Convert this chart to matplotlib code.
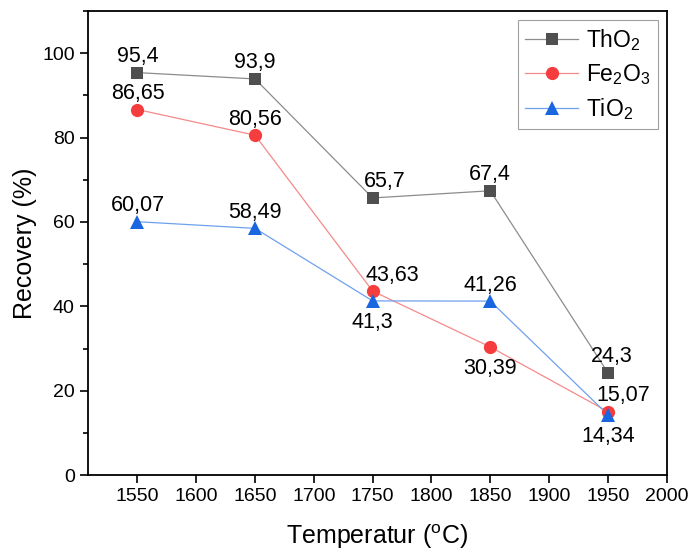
import matplotlib
matplotlib.use("Agg")
import matplotlib.pyplot as plt
from matplotlib.ticker import MultipleLocator

plt.rcParams['font.family'] = ['Liberation Sans', 'DejaVu Sans']
plt.rcParams['mathtext.fontset'] = 'custom'
plt.rcParams['mathtext.rm'] = 'Liberation Sans'
plt.rcParams['mathtext.it'] = 'Liberation Sans:italic'

temperature = [1550, 1650, 1750, 1850, 1950]
tho2 = [95.4, 93.9, 65.7, 67.4, 24.3]
fe2o3 = [86.65, 80.56, 43.63, 30.39, 15.07]
tio2 = [60.07, 58.49, 41.3, 41.26, 14.34]

# label placement per point: 'a' above, 'b' below, with a sideways nudge (pt)
tho2_pos = ['a', 'a', 'a', 'a', 'a']
tho2_dx = [0, 0, 9, 0, 3]
fe2o3_pos = ['a', 'a', 'a', 'b', 'a']
fe2o3_dx = [0, 0, 14, 0, 11]
tio2_pos = ['a', 'a', 'b', 'a', 'b']
tio2_dx = [0, 0, 0, 0, 0]

fig = plt.figure(figsize=(6.88, 5.5), dpi=100)
ax = fig.add_axes([0.128, 0.136, 0.841, 0.844])

series = [
    (tho2, r'$\mathregular{ThO_2}$', 's', '#4f4f4f', '#8c8c8c', 8.5, tho2_pos, tho2_dx),
    (fe2o3, r'$\mathregular{Fe_2O_3}$', 'o', '#f53d3d', '#f58a8a', 9.5, fe2o3_pos, fe2o3_dx),
    (tio2, r'$\mathregular{TiO_2}$', '^', '#1a66e0', '#6fa0ee', 10, tio2_pos, tio2_dx),
]

for vals, label, mk, mcol, lcol, ms, pos, dxs in series:
    ax.plot(temperature, vals, color=lcol, lw=0.9, zorder=2)
    ax.plot(temperature, vals, ls='none', marker=mk, ms=ms, color=mcol,
            markeredgewidth=0, zorder=3)
    for x, y, p, dx in zip(temperature, vals, pos, dxs):
        txt = f'{y:g}'.replace('.', ',')
        if p == 'a':
            ax.annotate(txt, (x, y), xytext=(dx, 4), textcoords='offset points',
                        ha='center', va='bottom', fontsize=15.5)
        else:
            ax.annotate(txt, (x, y), xytext=(dx, -8), textcoords='offset points',
                        ha='center', va='top', fontsize=15.5)

# legend proxies (line + marker)
handles = []
for vals, label, mk, mcol, lcol, ms, pos, dxs in series:
    h, = ax.plot([], [], color=lcol, lw=0.9, marker=mk, ms=ms,
                 markerfacecolor=mcol, markeredgewidth=0, label=label)
    handles.append(h)
leg = ax.legend(handles=handles, loc='upper right', fontsize=16.5,
                frameon=True, fancybox=False, edgecolor='#888888',
                borderaxespad=0.4, handlelength=2.3, labelspacing=0.4,
                handletextpad=0.35, borderpad=0.3)
leg.get_frame().set_linewidth(0.8)

ax.set_xlim(1508, 2000)
ax.set_ylim(0, 110)
ax.yaxis.set_major_locator(MultipleLocator(20))
ax.yaxis.set_minor_locator(MultipleLocator(10))
ax.set_xticks(range(1550, 2001, 50))

ax.tick_params(axis='both', which='major', direction='out', length=6,
               width=1.2, labelsize=14, top=False, right=False)
ax.tick_params(axis='y', which='minor', direction='out', length=3.5, width=1.2)
for sp in ax.spines.values():
    sp.set_linewidth(1.3)

ax.set_xlabel(r'Temperatur ($\mathregular{^oC}$)', fontsize=18, labelpad=12)
ax.set_ylabel('Recovery (%)', fontsize=18, labelpad=4)

fig.savefig('out.png', dpi=100)
